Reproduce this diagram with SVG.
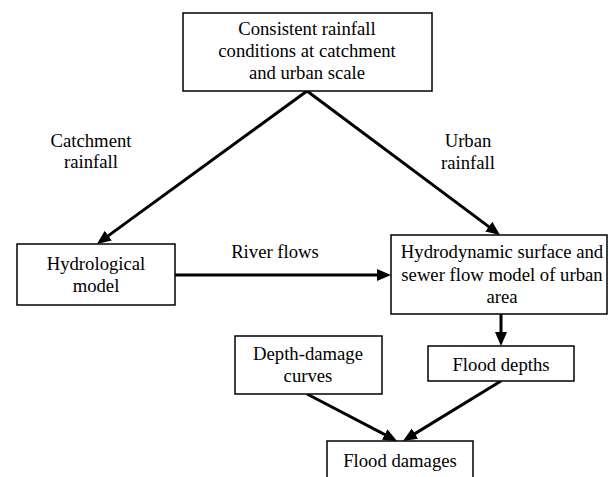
<svg xmlns="http://www.w3.org/2000/svg" width="609" height="477" viewBox="0 0 609 477">
<style>
.box{fill:#fff;stroke:#000;stroke-width:1.5}
text{font-family:'Liberation Serif','DejaVu Serif',serif;font-size:18.7px;fill:#000;text-anchor:middle}
.c{stroke:#000;stroke-width:3;fill:none;marker-end:url(#ah)}
</style>
<defs>
<marker id="ah" markerUnits="userSpaceOnUse" markerWidth="16" markerHeight="14" refX="10" refY="6" orient="auto">
<path d="M0,0 L14,6 L0,12 z" fill="#000"/>
</marker>
</defs>
<rect width="609" height="477" fill="#fff"/>
<g id="connectors">
<line class="c" x1="307" y1="91" x2="100.2" y2="241.6"/>
<line class="c" x1="307" y1="91" x2="496.8" y2="232.6"/>
<line class="c" x1="175" y1="275" x2="387" y2="275"/>
<line class="c" x1="501" y1="314" x2="501" y2="342"/>
<line class="c" x1="307" y1="394" x2="393.5" y2="439.1"/>
<line class="c" x1="501" y1="381" x2="406.4" y2="438.9"/>
<text x="91" y="147">Catchment</text>
<text x="91" y="168">rainfall</text>
<text x="468" y="147">Urban</text>
<text x="468" y="169">rainfall</text>
<text x="275" y="258">River flows</text>
</g>
<g id="rainfall">
<rect class="box" x="183" y="13" width="249" height="78"/>
<text x="307" y="35">Consistent rainfall</text>
<text x="307" y="57">conditions at catchment</text>
<text x="307" y="79">and urban scale</text>
</g>
<g id="hydrological">
<rect class="box" x="17" y="244" width="158" height="61"/>
<text x="96" y="270">Hydrological</text>
<text x="96" y="292">model</text>
</g>
<g id="hydrodynamic">
<rect class="box" x="391" y="235" width="216" height="79"/>
<text x="502" y="258">Hydrodynamic surface and</text>
<text x="502" y="281">sewer flow model of urban</text>
<text x="502" y="303">area</text>
</g>
<g id="depthdamage">
<rect class="box" x="235" y="336" width="147" height="58"/>
<text x="308" y="360">Depth-damage</text>
<text x="308" y="382">curves</text>
</g>
<g id="flooddepths">
<rect class="box" x="428" y="346" width="146" height="35"/>
<text x="501" y="371">Flood depths</text>
</g>
<g id="flooddamages">
<rect class="box" x="327" y="441" width="146" height="40"/>
<text x="400" y="467">Flood damages</text>
</g>
</svg>
